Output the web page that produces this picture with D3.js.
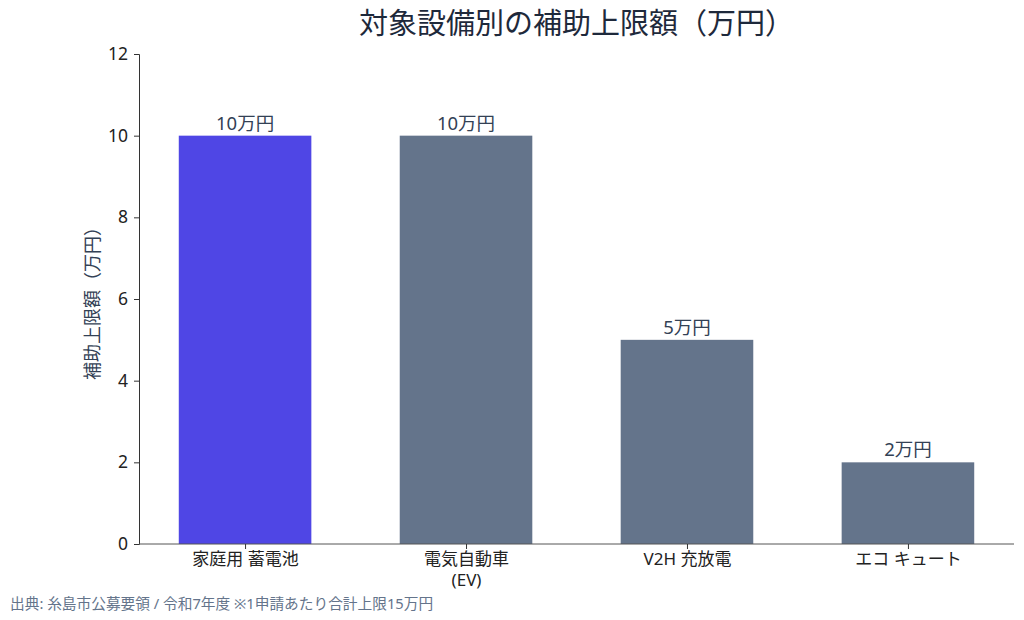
<!DOCTYPE html>
<html>
<head>
<meta charset="utf-8">
<script src="https://cdn.jsdelivr.net/npm/d3@7"></script>
<style>
  body { margin: 0; background: #fff; }
  text { font-family: "Noto Sans", "Noto Sans CJK JP", sans-serif; }
</style>
</head>
<body>
<script>
var categories = ["家庭用 蓄電池", "電気自動車\n(EV)", "V2H 充放電", "エコ キュート"];
var values = [10, 10, 5, 2];
var valueLabels = ["10万円", "10万円", "5万円", "2万円"];
var yTicks = [0, 2, 4, 6, 8, 10, 12];
var barColors = ["#4f46e5", "#64748b", "#64748b", "#64748b"];

var margin = {top: 54, right: 10, bottom: 76, left: 139},
    width = 1024 - margin.left - margin.right,
    height = 620 - margin.top - margin.bottom;

var svg = d3.select("body").append("svg")
    .attr("width", 1024)
    .attr("height", 620);

var g = svg.append("g")
    .attr("transform", "translate(" + margin.left + "," + margin.top + ")");

// bar centres at 0..3, matplotlib-ish limits
var x = d3.scaleLinear()
    .domain([-0.48, 3.48])
    .range([0, width]);

var y = d3.scaleLinear()
    .domain([0, 12])
    .range([height, 0]);

var barW = x(0.6) - x(0);

g.selectAll("rect.bar")
    .data(values)
  .enter().append("rect")
    .attr("class", "bar")
    .attr("x", function(d, i) { return x(i) - barW / 2; })
    .attr("y", function(d) { return y(d); })
    .attr("width", barW)
    .attr("height", function(d) { return y(0) - y(d); })
    .attr("fill", function(d, i) { return barColors[i]; });

g.selectAll("text.val")
    .data(values)
  .enter().append("text")
    .attr("class", "val")
    .attr("x", function(d, i) { return x(i); })
    .attr("y", function(d) { return y(d) - 6; })
    .attr("text-anchor", "middle")
    .attr("font-size", 18.5)
    .attr("fill", "#334155")
    .text(function(d, i) { return valueLabels[i]; });

var yAxis = d3.axisLeft(y).tickValues(yTicks).tickSize(5).tickPadding(6);
var yg = g.append("g").call(yAxis);
yg.select(".domain").attr("stroke", "#333");
yg.selectAll(".tick line").attr("stroke", "#333");
yg.selectAll(".tick text")
    .attr("font-size", 17.5)
    .attr("fill", "#222")
    .style("font-family", "\"Noto Sans\", sans-serif");

var xAxis = d3.axisBottom(x).tickValues(d3.range(categories.length)).tickSize(5).tickFormat("");
var xg = g.append("g")
    .attr("transform", "translate(0," + height + ")")
    .call(xAxis);
xg.select(".domain").attr("stroke", "#555").attr("d", "M0,0H" + width);
xg.selectAll(".tick line").attr("stroke", "#333");

xg.selectAll(".tick").each(function(d, i) {
  var lines = categories[i].split("\n");
  var t = d3.select(this).append("text")
      .attr("text-anchor", "middle")
      .attr("font-size", 17)
      .attr("fill", "#222");
  lines.forEach(function(l, j) {
    t.append("tspan").attr("x", 0).attr("y", 21 + j * 21).text(l);
  });
});

svg.append("text")
    .attr("x", margin.left + width / 2)
    .attr("y", 34)
    .attr("text-anchor", "middle")
    .attr("font-size", 29)
    .attr("fill", "#1e293b")
    .text("対象設備別の補助上限額（万円）");

svg.append("text")
    .attr("transform", "translate(99," + (margin.top + height / 2) + ") rotate(-90)")
    .attr("text-anchor", "middle")
    .attr("font-size", 18)
    .attr("fill", "#334155")
    .text("補助上限額（万円）");

svg.append("text")
    .attr("x", 10)
    .attr("y", 609)
    .attr("font-size", 14.7)
    .attr("fill", "#64748b")
    .text("出典: 糸島市公募要領 / 令和7年度 ※1申請あたり合計上限15万円");
</script>
</body>
</html>
